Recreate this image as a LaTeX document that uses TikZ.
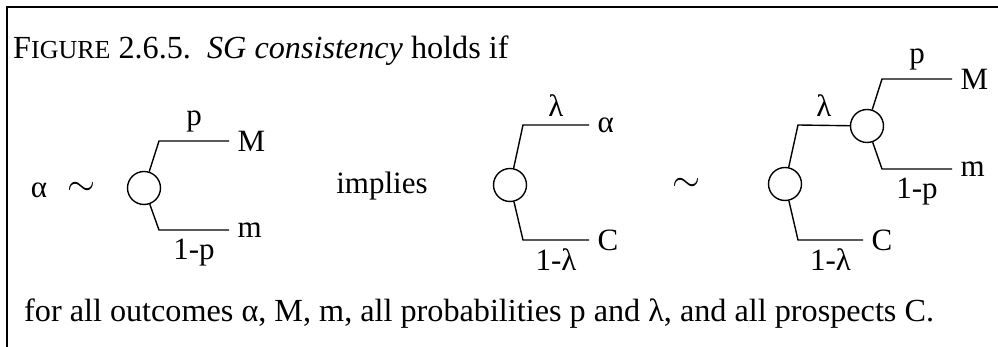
\RequirePackage{fix-cm}
\documentclass[tikz,border=0pt]{standalone}
\usepackage{fontspec}
\setmainfont{Liberation Serif}
\newcommand{\lblfont}{\fontsize{31}{36}\selectfont}
\newcommand{\capfont}{\fontsize{32.2}{36}\selectfont}
\newcommand{\scfont}{\fontsize{26}{30}\selectfont}
\newcommand{\simfont}{\fontsize{36}{40}\selectfont}
\begin{document}
\begin{tikzpicture}[x=1pt,y=1pt,
  chance/.style={circle,draw,line width=1.4pt,minimum size=33pt,inner sep=0pt},
  branch/.style={line width=1.4pt},
  outcome/.style={right=8pt,inner sep=0pt,font=\lblfont},
  probup/.style={above=8pt,inner sep=0pt,font=\lblfont},
  probdown/.style={below=8pt,inner sep=0pt,font=\lblfont}]
\useasboundingbox (0,0) rectangle (998,347);
\draw[line width=2pt] (7,0) -- (7,340) -- (998,340);
% caption and footer
\node[anchor=base west,inner sep=0pt,font=\capfont] (cap) at (13,288)
  {F{\scfont IGURE} 2.6.5.\hspace{0.5em}\textit{SG consistency} holds if};
\node[anchor=base west,inner sep=0pt,font=\capfont] (foot) at (24,25)
  {for all outcomes α, M, m, all probabilities p and λ, and all prospects C.};
% left lottery
\node[anchor=base,inner sep=0pt,font=\lblfont] (alpha) at (39,149) {α};
\node[inner sep=0pt,font=\simfont] (sim1) at (81,158) {$\sim$};
\node[chance] (c1) at (144,159) {};
\coordinate (u1) at (159,206); \coordinate (e1) at (229,206);
\coordinate (d1) at (159,117); \coordinate (f1) at (229,117);
\draw[branch] (c1) -- (u1) -- node[probup] (p1) {p} (e1) node[outcome] (M1) {M};
\draw[branch] (c1) -- (d1) -- node[probdown] (q1) {1-p} (f1) node[outcome] (m1) {m};
\node[anchor=base,inner sep=0pt,font=\lblfont] (impl) at (382,153) {implies};
% middle lottery
\node[chance] (c2) at (510,162) {};
\coordinate (u2) at (523,222); \coordinate (e2) at (589,222);
\coordinate (d2) at (523,107); \coordinate (f2) at (589,107);
\draw[branch] (c2) -- (u2) -- node[probup] (l2) {λ} (e2) node[outcome] (a2) {α};
\draw[branch] (c2) -- (d2) -- node[probdown] (k2) {1-λ} (f2) node[outcome] (C2) {C};
\node[inner sep=0pt,font=\simfont] (sim2) at (686,162) {$\sim$};
% right compound lottery
\node[chance] (c3) at (785,163) {};
\node[chance] (c4) at (867,221) {};
\coordinate (u3) at (798,222);
\coordinate (d3) at (798,107); \coordinate (f3) at (863,107);
\draw[branch] (c3) -- (u3) -- node[probup] (l3) {λ} (c4);
\draw[branch] (c3) -- (d3) -- node[probdown] (k3) {1-λ} (f3) node[outcome] (C3) {C};
\coordinate (u4) at (882,268); \coordinate (e4) at (952,268);
\coordinate (d4) at (882,178); \coordinate (f4) at (952,178);
\draw[branch] (c4) -- (u4) -- node[probup] (p4) {p} (e4) node[outcome] (M4) {M};
\draw[branch] (c4) -- (d4) -- node[probdown] (q4) {1-p} (f4) node[outcome] (m4) {m};
\end{tikzpicture}
\end{document}
